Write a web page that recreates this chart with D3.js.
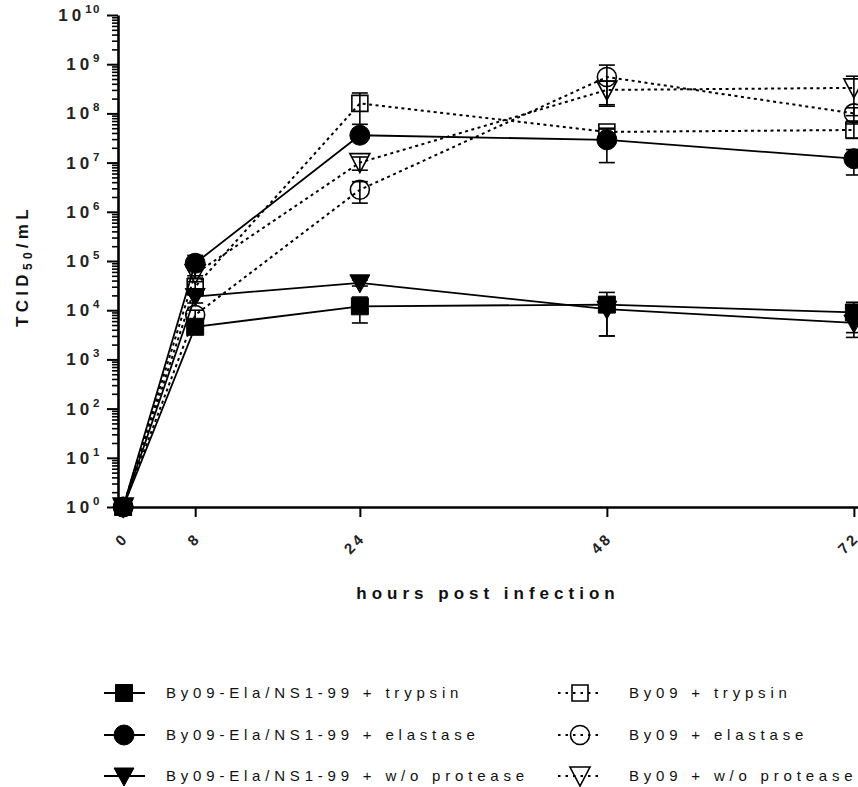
<!DOCTYPE html>
<html>
<head>
<meta charset="utf-8">
<script src="https://cdn.jsdelivr.net/npm/d3@7/dist/d3.min.js"></script>
<style>
  html, body { margin: 0; padding: 0; background: #fff; }
  svg { display: block; font-family: "Liberation Sans", Arial, sans-serif; }
</style>
</head>
<body>
<svg id="chart" width="858" height="787"></svg>
<script>
// Sampling times (first sample taken right after inoculation, labelled 0 h)
const sampleHours = [1, 8, 24, 48, 72];
const hourLabels = ["0", "8", "24", "48", "72"];
const decades = [0, 1, 2, 3, 4, 5, 6, 7, 8, 9, 10];

// Virus titres (TCID50/mL) and their standard deviations
const elaTrypsin    = [1, 4.6e3, 1.2e4, 1.3e4, 9.0e3];
const elaTrypsinSD  = [0, 0, 6.5e3, 1.0e4, 5.5e3];
const elaElastase   = [1, 9.0e4, 3.6e7, 2.9e7, 1.2e7];
const elaElastaseSD = [0, 4.0e4, 5.0e6, 1.9e7, 6.4e6];
const elaNone       = [1, 1.9e4, 3.6e4, 1.05e4, 5.5e3];
const elaNoneSD     = [0, 5.0e3, 5.0e3, 7.5e3, 2.7e3];
const by09Trypsin    = [1, 3.0e4, 1.6e8, 4.2e7, 4.6e7];
const by09TrypsinSD  = [0, 8.0e3, 1.0e8, 8.0e6, 1.5e7];
const by09Elastase   = [1, 8.0e3, 2.8e6, 5.5e8, 1.0e8];
const by09ElastaseSD = [0, 2.0e3, 1.3e6, 4.1e8, 3.0e7];
const by09None       = [1, 5.5e4, 1.0e7, 3.0e8, 3.3e8];
const by09NoneSD     = [0, 1.0e4, 3.0e6, 1.5e8, 2.4e8];

const seriesNames = [
  "By09-Ela/NS1-99 + trypsin",
  "By09-Ela/NS1-99 + elastase",
  "By09-Ela/NS1-99 + w/o protease",
  "By09 + trypsin",
  "By09 + elastase",
  "By09 + w/o protease"
];

const series = [
  { name: seriesNames[0], values: elaTrypsin,   sd: elaTrypsinSD,   shape: "square",   filled: true,  dashed: false },
  { name: seriesNames[1], values: elaElastase,  sd: elaElastaseSD,  shape: "circle",   filled: true,  dashed: false },
  { name: seriesNames[2], values: elaNone,      sd: elaNoneSD,      shape: "triangle", filled: true,  dashed: false },
  { name: seriesNames[3], values: by09Trypsin,  sd: by09TrypsinSD,  shape: "square",   filled: false, dashed: true },
  { name: seriesNames[4], values: by09Elastase, sd: by09ElastaseSD, shape: "circle",   filled: false, dashed: true },
  { name: seriesNames[5], values: by09None,     sd: by09NoneSD,     shape: "triangle", filled: false, dashed: true }
];

const svg = d3.select("#chart");

const x = d3.scaleLinear().domain([0.5, 72.4]).range([118, 858]);
const y = d3.scaleLog().domain([1, 1e10]).range([507, 15]);

// ---- symbols ----
function symbolPath(shape, filled) {
  if (shape === "square") {
    const s = filled ? 17 : 16, h = s / 2;
    return `M${-h},${-h}H${h}V${h}H${-h}Z`;
  }
  if (shape === "circle") {
    const r = filled ? 10 : 9.5;
    return `M${r},0A${r},${r} 0 1,1 ${-r},0A${r},${r} 0 1,1 ${r},0Z`;
  }
  // downward triangle
  const w = 10, t = filled ? 8 : 9, b = 10;
  return `M${-w},${-t}H${w}L0,${b}Z`;
}

function drawSymbol(g, s) {
  g.append("path")
    .attr("d", symbolPath(s.shape, s.filled))
    .attr("fill", s.filled ? "#000" : "none")
    .attr("stroke", "#000")
    .attr("stroke-width", s.filled ? 1 : 1.6);
}

// ---- axes ----
const minors = [];
decades.slice(0, -1).forEach(e => {
  for (let m = 2; m <= 9; m++) minors.push(m * Math.pow(10, e));
});

svg.append("g")
  .attr("transform", "translate(118,0)")
  .call(d3.axisLeft(y).tickValues(minors).tickSize(6).tickFormat(""))
  .call(g => g.select(".domain").remove())
  .call(g => g.selectAll("line").attr("stroke-width", 1.6));

const yAxis = svg.append("g")
  .attr("transform", "translate(118,0)")
  .call(d3.axisLeft(y).tickValues(decades.map(e => Math.pow(10, e))).tickSize(11).tickSizeOuter(0).tickFormat(""));
yAxis.select(".domain").attr("stroke-width", 2.6);
yAxis.selectAll("line").attr("stroke-width", 2);

// decade labels: 10 with superscript exponent
decades.forEach(e => {
  const t = svg.append("text")
    .attr("x", 101)
    .attr("y", y(Math.pow(10, e)) + 6)
    .attr("text-anchor", "end")
    .attr("font-weight", "bold")
    .attr("fill", "#222");
  t.append("tspan").attr("font-size", 17).attr("letter-spacing", 4).text("10");
  t.append("tspan").attr("font-size", 11.5).attr("dy", -8).attr("letter-spacing", 1.5).text(String(e));
});

const xAxis = svg.append("g")
  .attr("transform", "translate(0,507)")
  .call(d3.axisBottom(x).tickValues(sampleHours).tickSize(10).tickSizeOuter(0)
    .tickFormat((d, i) => hourLabels[i]));
xAxis.select(".domain").attr("stroke-width", 2.6);
xAxis.selectAll("line").attr("stroke-width", 2);
xAxis.selectAll("text")
  .attr("font-size", 15)
  .attr("font-weight", "bold")
  .attr("letter-spacing", 3)
  .attr("fill", "#222")
  .attr("text-anchor", "end")
  .attr("dy", null)
  .attr("y", 0)
  .attr("transform", "translate(6,32) rotate(-45)");

// axis titles
svg.append("text")
  .attr("x", 488)
  .attr("y", 599)
  .attr("text-anchor", "middle")
  .attr("font-size", 17)
  .attr("font-weight", "bold")
  .attr("letter-spacing", 5)
  .attr("fill", "#111")
  .text("hours post infection");

const yTitle = svg.append("text")
  .attr("transform", "translate(28,266) rotate(-90)")
  .attr("text-anchor", "middle")
  .attr("font-size", 17)
  .attr("font-weight", "bold")
  .attr("letter-spacing", 4.3)
  .attr("fill", "#111");
yTitle.append("tspan").text("TCID");
yTitle.append("tspan").attr("font-size", 12).attr("dy", 4).text("50");
yTitle.append("tspan").attr("dy", -4).text("/mL");

// ---- data ----
const line = d3.line().x(d => x(d.h)).y(d => y(d.v));
const plot = svg.append("g");

// open-symbol series first so the filled markers sit on top
const drawOrder = [5, 4, 3, 2, 1, 0];
drawOrder.forEach(i => {
  const s = series[i];
  const pts = s.values.map((v, k) => ({ h: sampleHours[k], v, sd: s.sd[k] }));
  const g = plot.append("g");

  g.append("path")
    .attr("d", line(pts))
    .attr("fill", "none")
    .attr("stroke", "#000")
    .attr("stroke-width", s.dashed ? 2 : 1.8)
    .attr("stroke-dasharray", s.dashed ? "3,3.5" : null);

  pts.forEach(p => {
    if (p.sd > 0) {
      const hi = p.v + p.sd;
      const lo = Math.max(p.v - p.sd, 1);
      const cx = x(p.h);
      g.append("line").attr("x1", cx).attr("x2", cx).attr("y1", y(hi)).attr("y2", y(lo))
        .attr("stroke", "#000").attr("stroke-width", 1.6);
      [hi, lo].forEach(b => {
        g.append("line").attr("x1", cx - 8).attr("x2", cx + 8).attr("y1", y(b)).attr("y2", y(b))
          .attr("stroke", "#000").attr("stroke-width", 1.6);
      });
    }
  });

  pts.forEach(p => {
    const m = g.append("g").attr("transform", `translate(${x(p.h)},${y(p.v)})`);
    drawSymbol(m, s);
  });
});

// ---- legend ----
const legendRows = [693, 735, 776];
const legendCols = [
  { sym: 124, x1: 104, x2: 145, text: 166 },
  { sym: 580, x1: 558, x2: 602, text: 629 }
];
series.forEach((s, i) => {
  const col = legendCols[Math.floor(i / 3)];
  const ly = legendRows[i % 3];
  const g = svg.append("g");
  g.append("line")
    .attr("x1", col.x1).attr("x2", col.x2).attr("y1", ly).attr("y2", ly)
    .attr("stroke", "#000")
    .attr("stroke-width", s.dashed ? 2 : 1.8)
    .attr("stroke-dasharray", s.dashed ? "2.5,5" : null);
  const m = g.append("g").attr("transform", `translate(${col.sym},${ly})`);
  drawSymbol(m, s);
  g.append("text")
    .attr("x", col.text)
    .attr("y", ly + 5)
    .attr("font-size", 15)
    .attr("letter-spacing", 4.8)
    .attr("fill", "#111")
    .text(s.name);
});
</script>
</body>
</html>
